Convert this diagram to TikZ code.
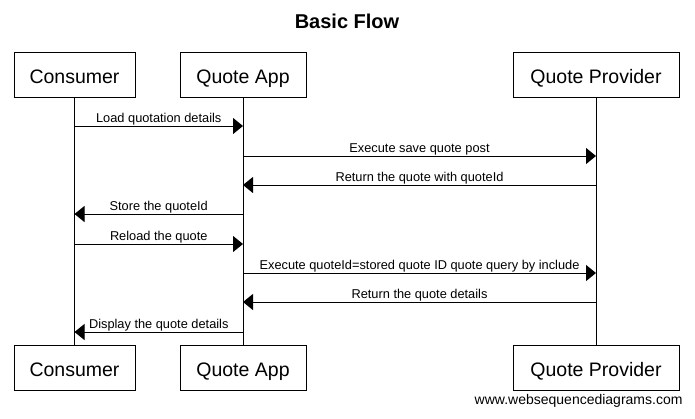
\documentclass[tikz,border=0pt]{standalone}
\usepackage{fontspec}
\setmainfont{Liberation Sans}
\usetikzlibrary{arrows.meta}
\begin{document}
\begin{tikzpicture}[x=1pt,y=-1pt,line width=1pt,
  actor/.style={draw,fill=white,minimum height=45pt,inner sep=0pt,text height=18pt,text depth=1pt,font=\fontsize{19.5}{23}\selectfont},
  msg/.style={-{Triangle[length=10pt,width=16pt]}},
  lbl/.style={font=\fontsize{12.8}{14}\selectfont,anchor=base,inner sep=0pt,yshift=4pt}]
\useasboundingbox[fill=white] (0,0) rectangle (695,418);
\node[font=\fontsize{20}{24}\selectfont\bfseries,anchor=base] (title) at (347,28) {Basic Flow};
% actors
\node[actor,minimum width=121pt] (cT) at (74.5,74.5) {Consumer};
\node[actor,minimum width=126pt] (aT) at (243,74.5) {Quote App};
\node[actor,minimum width=166pt] (pT) at (596,74.5) {Quote Provider};
\node[actor,minimum width=121pt] (cB) at (74.5,367.5) {Consumer};
\node[actor,minimum width=126pt] (aB) at (243,367.5) {Quote App};
\node[actor,minimum width=166pt] (pB) at (596,367.5) {Quote Provider};
% lifelines
\draw (cT.south) -- (cB.north);
\draw (aT.south) -- (aB.north);
\draw (pT.south) -- (pB.north);
% message end points
\coordinate (c1) at (cT.south |- 0,126);
\coordinate (a1) at (aT.south |- 0,126);
\coordinate (a2) at (aT.south |- 0,156);
\coordinate (p2) at (pT.south |- 0,156);
\coordinate (a3) at (aT.south |- 0,185);
\coordinate (p3) at (pT.south |- 0,185);
\coordinate (c4) at (cT.south |- 0,214);
\coordinate (a4) at (aT.south |- 0,214);
\coordinate (c5) at (cT.south |- 0,244);
\coordinate (a5) at (aT.south |- 0,244);
\coordinate (a6) at (aT.south |- 0,273);
\coordinate (p6) at (pT.south |- 0,273);
\coordinate (a7) at (aT.south |- 0,302);
\coordinate (p7) at (pT.south |- 0,302);
\coordinate (c8) at (cT.south |- 0,332);
\coordinate (a8) at (aT.south |- 0,332);
% messages
\draw[msg] (c1) -- node[lbl] {Load quotation details} (a1);
\draw[msg] (a2) -- node[lbl] {Execute save quote post} (p2);
\draw[msg] (p3) -- node[lbl] {Return the quote with quoteId} (a3);
\draw[msg] (a4) -- node[lbl] {Store the quoteId} (c4);
\draw[msg] (c5) -- node[lbl] {Reload the quote} (a5);
\draw[msg] (a6) -- node[lbl] {Execute quoteId=stored quote ID quote query by include} (p6);
\draw[msg] (p7) -- node[lbl] {Return the quote details} (a7);
\draw[msg] (a8) -- node[lbl] {Display the quote details} (c8);
% footer
\node[font=\fontsize{14}{16}\selectfont,anchor=base east,inner sep=0pt] (footer) at (683,404) {www.websequencediagrams.com};
\end{tikzpicture}
\end{document}
